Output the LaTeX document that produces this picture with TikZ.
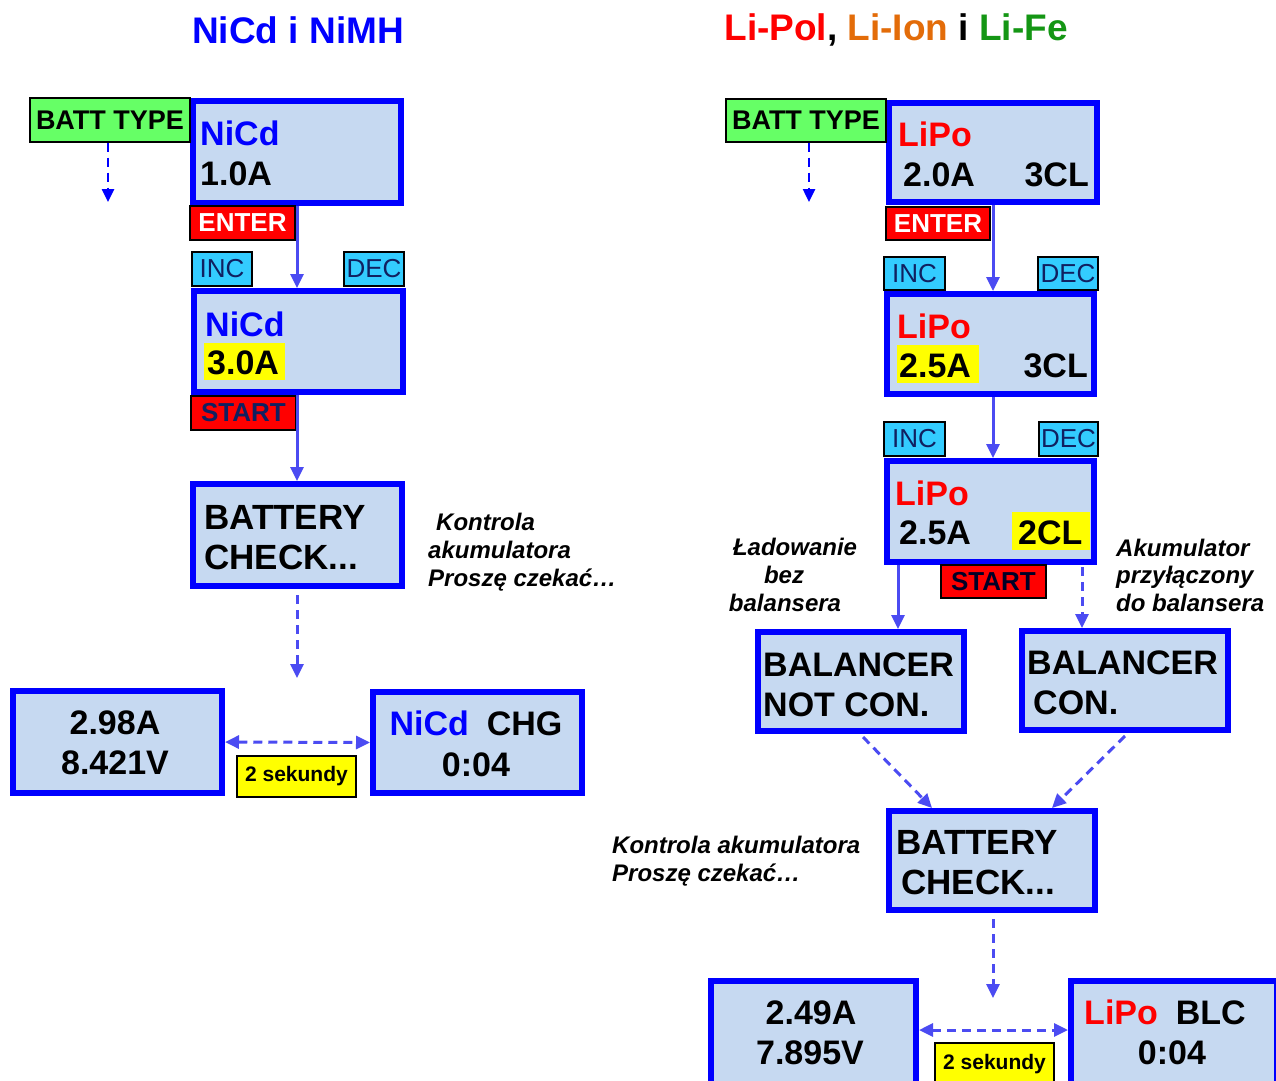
\documentclass[tikz,border=0pt]{standalone}
\usepackage{fontspec}
\setmainfont{Liberation Sans}
\usetikzlibrary{arrows.meta,calc}
\definecolor{dblue}{HTML}{0000FF}
\definecolor{dfill}{HTML}{C6D9F1}
\definecolor{ablue}{HTML}{4B4BF2}
\definecolor{bgreen}{HTML}{66FF66}
\definecolor{kcyan}{HTML}{33CCFF}
\definecolor{knavy}{HTML}{102060}
\definecolor{tred}{HTML}{FF0000}
\definecolor{torange}{HTML}{E36C09}
\definecolor{tgreen}{HTML}{149614}
\definecolor{hyellow}{HTML}{FFFF00}
\newcommand\fs[1]{\fontsize{#1}{#1}\selectfont}
\tikzset{
  disp/.style n args={2}{draw=dblue, line width=6pt, fill=dfill, inner sep=0pt, outer sep=3pt, minimum width=#1, minimum height=#2},
  keybox/.style n args={2}{draw=black, line width=1.2pt, inner sep=0pt, minimum width=#1, minimum height=#2},
  txt/.style={anchor=base west, inner sep=0pt, font=\fs{34}\bfseries},
  txtc/.style={anchor=base, inner sep=0pt, font=\fs{34}\bfseries},
  ann/.style={anchor=base west, inner sep=0pt, font=\fs{24}\bfseries\itshape},
  annc/.style={anchor=base, inner sep=0pt, font=\fs{24}\bfseries\itshape},
  conn/.style={draw=ablue, line width=3pt, -{Triangle[width=13pt,length=14pt]}},
  dconn/.style={conn, dash pattern=on 9pt off 6pt},
  dconntwo/.style={draw=ablue, line width=3pt, dash pattern=on 9pt off 6pt, {Triangle[width=13pt,length=14pt]}-{Triangle[width=13pt,length=14pt]}},
  bconn/.style={draw=dblue, line width=2.5pt, dash pattern=on 9pt off 6pt, -{Triangle[width=12pt,length=13pt]}},
}
\begin{document}
\begin{tikzpicture}[x=1pt,y=-1pt]
\useasboundingbox (0,0) rectangle (1276,1080);
\fill[white] (0,0) rectangle (1276,1080);
\clip (0,0) rectangle (1276,1080);

% titles
\node[font=\fs{37}\bfseries, text=dblue] (titleL) at (298,30) {NiCd i NiMH};
\node[font=\fs{37}\bfseries] (titleR) at (896,30) {\textcolor{tred}{Li-Pol}, \textcolor{torange}{Li-Ion} i \textcolor{tgreen}{Li-Fe}};

% ---------- left displays
\node[disp={208pt}{102pt}] (b1) at (297,152) {};
\node[disp={209pt}{101pt}] (b2) at (298.5,341.5) {};
\node[disp={209pt}{102pt}] (b3) at (297.5,535) {};
\node[disp={209pt}{102pt}] (b4) at (117.5,742) {};
\node[disp={209pt}{101pt}] (b5) at (477.5,742.5) {};

% ---------- right displays
\node[disp={208pt}{99pt}] (r1) at (993,152.5) {};
\node[disp={207pt}{100pt}] (r2) at (990.5,344) {};
\node[disp={207pt}{101pt}] (r3) at (990.5,511.5) {};
\node[disp={206pt}{99pt}] (r4) at (861,681.5) {};
\node[disp={206pt}{99pt}] (r5) at (1125,680.5) {};
\node[disp={206pt}{99pt}] (r6) at (992,860.5) {};
\node[disp={205pt}{106pt}] (r7) at (813.5,1034) {};
\node[disp={206pt}{106pt}] (r8) at (1174,1034) {};

% highlights
\fill[hyellow] (204,343) rectangle (285,380);
\fill[hyellow] (897,345) rectangle (979,383);
\fill[hyellow] (1012,512) rectangle (1090,550);

% ---------- display texts left
\node[txt, text=dblue] (b1a) at (200,145) {NiCd};
\node[txt] (b1b) at (200,185) {1.0A};
\node[txt, text=dblue] (b2a) at (205,336) {NiCd};
\node[txt] (b2b) at (207,374) {3.0A};
\node[txt, font=\fs{35}\bfseries] (b3a) at (204,529) {BATTERY};
\node[txt, font=\fs{35}\bfseries] (b3b) at (204,569) {CHECK...};
\node[txtc] (b4a) at (115,734) {2.98A};
\node[txtc] (b4b) at (115,774) {8.421V};
\node[txtc] (b5a) at (476,735) {\textcolor{dblue}{NiCd}\hspace{18pt}CHG};
\node[txtc] (b5b) at (476,776) {0:04};

% ---------- display texts right
\node[txt, text=tred] (r1a) at (898,146) {LiPo};
\node[txt] (r1b) at (903,186) {2.0A};
\node[txt, anchor=base east] (r1c) at (1089,186) {3CL};
\node[txt, text=tred] (r2a) at (897,338) {LiPo};
\node[txt] (r2b) at (899,377) {2.5A};
\node[txt, anchor=base east] (r2c) at (1088,377) {3CL};
\node[txt, text=tred] (r3a) at (895,505) {LiPo};
\node[txt] (r3b) at (899,544) {2.5A};
\node[txt] (r3c) at (1018,544) {2CL};
\node[txt] (r4a) at (763,676) {BALANCER};
\node[txt] (r4b) at (763,716) {NOT CON.};
\node[txt] (r5a) at (1027,674) {BALANCER};
\node[txt] (r5b) at (1033,714) {CON.};
\node[txt, font=\fs{35}\bfseries] (r6a) at (896,854) {BATTERY};
\node[txt, font=\fs{35}\bfseries] (r6b) at (901,894) {CHECK...};
\node[txtc] (r7a) at (811,1024) {2.49A};
\node[txtc] (r7b) at (810,1064) {7.895V};
\node[txtc] (r8a) at (1165,1024) {\textcolor{tred}{LiPo}\hspace{18pt}BLC};
\node[txtc] (r8b) at (1172,1064) {0:04};

% ---------- key boxes left
\node[keybox={160pt}{44pt}, fill=bgreen, font=\fs{27}\bfseries] (battL) at (110,120) {BATT TYPE};
\node[keybox={105pt}{34pt}, fill=tred, text=white, font=\fs{26}\bfseries] (enterL) at (242.5,223) {ENTER};
\node[keybox={60pt}{34pt}, fill=kcyan, text=knavy, font=\fs{26}] (incL) at (222,269) {INC};
\node[keybox={60pt}{34pt}, fill=kcyan, text=knavy, font=\fs{26}] (decL) at (374,269) {DEC};
\node[keybox={105pt}{34pt}, fill=tred, text=knavy, font=\fs{26}\bfseries] (startL) at (243.5,413) {START};
\node[keybox={119pt}{41pt}, fill=hyellow, font=\fs{21}\bfseries] (sekL) at (296.5,776.5) {2 sekundy};

% ---------- key boxes right
\node[keybox={160pt}{43pt}, fill=bgreen, font=\fs{27}\bfseries] (battR) at (806,120.5) {BATT TYPE};
\node[keybox={104pt}{33pt}, fill=tred, text=white, font=\fs{26}\bfseries] (enterR) at (938,223.5) {ENTER};
\node[keybox={61pt}{33pt}, fill=kcyan, text=knavy, font=\fs{26}] (incR1) at (914.5,273.5) {INC};
\node[keybox={60pt}{33pt}, fill=kcyan, text=knavy, font=\fs{26}] (decR1) at (1068,273.5) {DEC};
\node[keybox={61pt}{34pt}, fill=kcyan, text=knavy, font=\fs{26}] (incR2) at (914.5,439) {INC};
\node[keybox={59pt}{34pt}, fill=kcyan, text=knavy, font=\fs{26}] (decR2) at (1068.5,439) {DEC};
\node[keybox={105pt}{33pt}, fill=tred, text=black!85!blue, font=\fs{26}\bfseries] (startR) at (993.5,581.5) {START};
\node[keybox={119pt}{42pt}, fill=hyellow, font=\fs{21}\bfseries] (sekR) at (994.5,1064) {2 sekundy};

% ---------- annotations
\node[ann] (n1) at (436,530) {Kontrola};
\node[ann] (n2) at (428,558) {akumulatora};
\node[ann] (n3) at (428,586) {Proszę czekać…};
\node[annc] (n4) at (795,555) {Ładowanie};
\node[annc] (n5) at (784,583) {bez};
\node[annc] (n6) at (785,611) {balansera};
\node[ann] (n7) at (1116,556) {Akumulator};
\node[ann] (n8) at (1116,583) {przyłączony};
\node[ann] (n9) at (1116,611) {do balansera};
\node[ann] (n10) at (612,853) {Kontrola akumulatora};
\node[ann] (n11) at (612,881) {Proszę czekać…};

% ---------- connectors
\coordinate (bl) at (108,202);
\draw[bconn] (battL.south -| bl) -- (bl);
\coordinate (br) at (809,202);
\draw[bconn] (battR.south -| br) -- (br);

\draw[conn] (b1.south) -- (b1.south |- b2.north);
\draw[conn] (b2.south -| b1.south) -- (b1.south |- b3.north);
\coordinate (e1) at (297,678);
\draw[dconn] ([yshift=-6pt]b3.south -| e1) -- (e1);
\draw[dconntwo] (b4.east) -- (b5.west);

\draw[conn] (r1.south) -- (r1.south |- r2.north);
\draw[conn] (r2.south -| r1.south) -- (r1.south |- r3.north);
\coordinate (r3l) at ([xshift=14pt]r3.south west);
\draw[conn] (r3l) -- (r3l |- r4.north);
\coordinate (r3r) at ([xshift=-15pt,yshift=-2pt]r3.south east);
\draw[dconn] (r3r) -- (r3r |- r5.north);
\draw[dconn] ([xshift=2pt,yshift=-3pt]r4.south) -- ([xshift=46pt]r6.north west);
\draw[dconn] ([yshift=-3pt]r5.south) -- ([xshift=-46pt]r6.north east);
\coordinate (e2) at (993,998);
\draw[dconn] ([yshift=-6pt]r6.south -| e2) -- (e2);
\draw[dconntwo] ([yshift=4pt]r7.east) -- ([yshift=4pt]r8.west);
\end{tikzpicture}
\end{document}
